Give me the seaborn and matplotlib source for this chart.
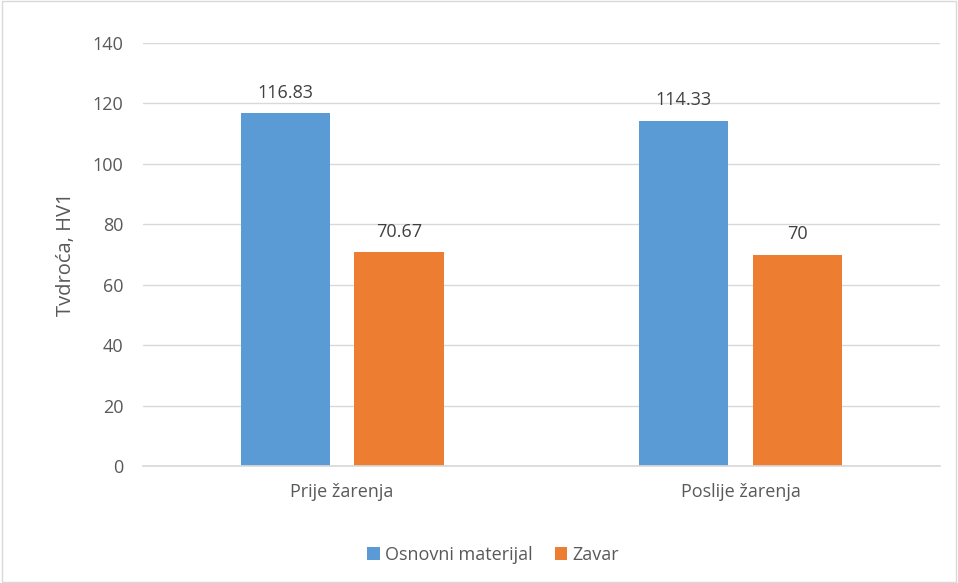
import pandas as pd
import matplotlib.pyplot as plt
import seaborn as sns
from matplotlib.patches import Rectangle

categories = ['Prije žarenja', 'Poslije žarenja']
series = ['Osnovni materijal', 'Zavar']
osnovni = [116.83, 114.33]
zavar = [70.67, 70]
labels_osnovni = ['116.83', '114.33']
labels_zavar = ['70.67', '70']

df = pd.DataFrame({
    'kategorija': categories * 2,
    'serija': [series[0]] * 2 + [series[1]] * 2,
    'vrijednost': osnovni + zavar,
})

sns.set_theme(style='white')
plt.rcParams['font.family'] = ['Open Sans', 'DejaVu Sans']
txt = '#595959'

fig = plt.figure(figsize=(9.58, 5.83), dpi=100)
ax = fig.add_axes([0.149, 0.2007, 0.832, 0.7255])
sns.barplot(data=df, x='kategorija', y='vrijednost', hue='serija',
            palette=['#5B9BD5', '#ED7D31'], width=0.572, gap=0.219,
            saturation=1, linewidth=0, ax=ax, legend=True)

ax.set_ylim(0, 140)
ax.set_yticks(range(0, 141, 20))
ax.set_xlim(-0.5, 1.5)
ax.grid(axis='y', color='#d9d9d9', linewidth=1)
ax.set_axisbelow(True)
for s in ['top', 'right', 'left']:
    ax.spines[s].set_visible(False)
ax.spines['bottom'].set_color('#d9d9d9')
ax.tick_params(axis='both', length=0, labelsize=13, colors=txt)
ax.tick_params(axis='x', pad=12)
ax.tick_params(axis='y', pad=14)
ax.set_xlabel('')
ax.set_ylabel('Tvdroća, HV1', fontsize=14.5, color=txt, labelpad=12)

for cont, labs in zip(ax.containers, [labels_osnovni, labels_zavar]):
    ax.bar_label(cont, labels=labs, padding=8, fontsize=13, color='#404040')

ax.legend(loc='upper center', bbox_to_anchor=(0.44, -0.15), ncol=2,
          frameon=False, fontsize=13, handlelength=0.7, handleheight=0.7,
          columnspacing=1.2, handletextpad=0.3, labelcolor=txt)

fig.patches.append(Rectangle((0.002, 0.002), 0.996, 0.996, transform=fig.transFigure,
                             fill=False, edgecolor='#d9d9d9', linewidth=1))

fig.savefig('out.png', dpi=100)
